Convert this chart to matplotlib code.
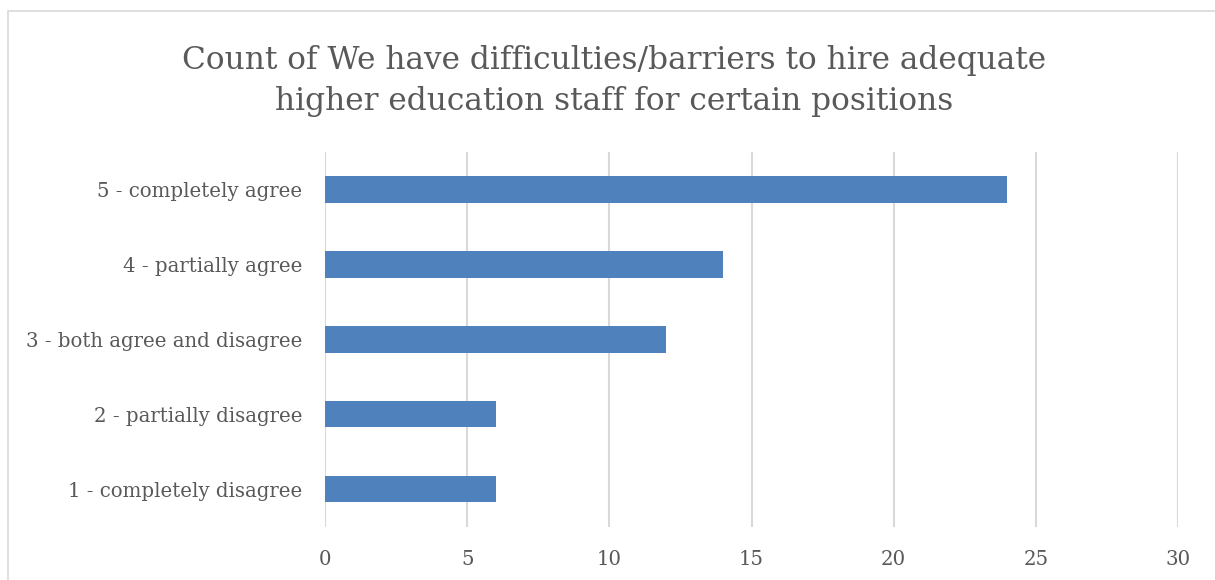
import matplotlib.pyplot as plt
from matplotlib.patches import Rectangle

# Survey answers, bottom to top
categories = ["1 - completely disagree", "2 - partially disagree",
              "3 - both agree and disagree", "4 - partially agree",
              "5 - completely agree"]
counts = [6, 6, 12, 14, 24]
xticks = [0, 5, 10, 15, 20, 25, 30]

title = ("Count of We have difficulties/barriers to hire adequate\n"
         "higher education staff for certain positions")

plt.rcParams['font.family'] = ['DejaVu Serif']
text_col = '#595959'
grid_col = '#d9d9d9'

fig = plt.figure(figsize=(12.15, 5.8), dpi=100)
W, H = 1215, 580

# chart border (left and top edges visible)
fig.patches.append(Rectangle((8 / W, -0.1), 1.2, 1 - 11 / H + 0.1,
                             transform=fig.transFigure, fill=False,
                             edgecolor=grid_col, linewidth=1.2))

ax = fig.add_axes([325 / W, 53.5 / H, 853 / W, 374.5 / H])
ax.barh(range(len(categories)), counts, height=0.355, color='#4f81bd', zorder=3)

ax.set_xlim(0, 30)
ax.set_ylim(-0.5, len(categories) - 0.5)
ax.set_xticks(xticks)
ax.set_xticklabels([str(t) for t in xticks])
ax.set_yticks(range(len(categories)))
ax.set_yticklabels(categories)
ax.tick_params(axis='both', length=0, labelsize=14.2, colors=text_col)
ax.tick_params(axis='y', pad=16.5)
ax.tick_params(axis='x', pad=17)
ax.grid(axis='x', color=grid_col, linewidth=1.5, zorder=0)
for s in ax.spines.values():
    s.set_visible(False)

fig.text(614 / W, 1 - 81 / H, title, ha='center', va='center',
         fontsize=22.5, color=text_col, linespacing=1.45)

fig.savefig('out.png', dpi=100)
